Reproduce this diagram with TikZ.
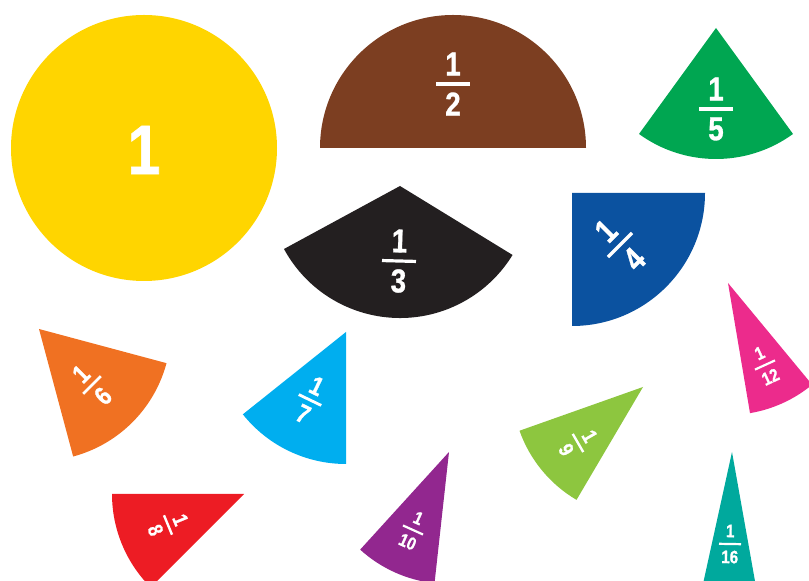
\documentclass[tikz,border=0pt]{standalone}
\usepackage{fontspec}
\newfontfamily\piecefont[FakeStretch=0.84, BoldFeatures={FakeBold=1}]{Liberation Sans}
\usetikzlibrary{calc}

\definecolor{pyellow}{RGB}{255,213,0}
\definecolor{pbrown}{RGB}{124,62,33}
\definecolor{pgreen}{RGB}{0,166,81}
\definecolor{pblack}{RGB}{35,31,32}
\definecolor{pblue}{RGB}{11,82,160}
\definecolor{porange}{RGB}{240,113,34}
\definecolor{pcyan}{RGB}{0,174,239}
\definecolor{ppink}{RGB}{236,43,140}
\definecolor{plime}{RGB}{141,198,63}
\definecolor{pred}{RGB}{237,28,36}
\definecolor{ppurple}{RGB}{146,39,143}
\definecolor{pteal}{RGB}{0,169,157}

% sector: colour, apex, start angle, end angle, radius
\newcommand{\piece}[5]{%
  \fill[#1] (#2) -- ++(#3:#5pt) arc[start angle=#3, end angle=#4, radius=#5pt] -- cycle;}

% label: name, centre of bar, rotation, numerator, denominator, size style
\newcommand{\fraclabel}[6]{%
  \begin{scope}[#6, shift={(#2)}, rotate=#3]
    \fill[white] (-\fbar,-\fthk) rectangle (\fbar,\fthk);
    \node[digit] (#1n) at (0,\fgap) {#4};
    \node[digit] (#1d) at (0,-\fgap) {#5};
  \end{scope}}

\begin{document}
\begin{tikzpicture}[
    x=1pt, y=1pt,
    digit/.style={text=white, inner sep=0pt, transform shape,
      font=\piecefont\bfseries\fontsize{\fsize}{\fsize}\selectfont},
    lg/.style={/utils/exec={\def\fbar{17}\def\fthk{1.6}\def\fgap{20}\def\fsize{33}}},
    md/.style={/utils/exec={\def\fbar{12.5}\def\fthk{1.4}\def\fgap{15.5}\def\fsize{26}}},
    sm/.style={/utils/exec={\def\fbar{10.5}\def\fthk{1.2}\def\fgap{13.5}\def\fsize{21}}},
    xs/.style={/utils/exec={\def\fbar{11}\def\fthk{1.1}\def\fgap{13}\def\fsize{18}}},
]
\useasboundingbox (0,0) rectangle (809,581);
\clip (0,0) rectangle (809,581);

% whole
\fill[pyellow] (144,433) circle[radius=133pt];
\node[text=white, inner sep=0pt, font=\piecefont\bfseries\fontsize{70}{70}\selectfont] (one) at (144,431) {1};

% top row
\piece{pbrown}{453,433}{0}{180}{133}
\fraclabel{half}{453,497}{0}{1}{2}{lg}
\piece{pgreen}{716,553}{234}{306}{131}
\fraclabel{fifth}{716,472}{0}{1}{5}{lg}

% middle
\piece{pblack}{400,395}{208.5}{328.5}{132}
\fraclabel{third}{399,320}{-1.5}{1}{3}{lg}
\piece{pblue}{572,388}{270}{360}{133}
\fraclabel{quarter}{620,336}{45}{1}{4}{lg}

\piece{porange}{39,252}{285}{345}{132}
\fraclabel{sixth}{92,196}{45}{1}{6}{md}
\piece{pcyan}{346,249}{218.6}{270}{132}
\fraclabel{seventh}{310,181}{-25.7}{1}{7}{md}
\piece{ppink}{728,298}{279.6}{309.6}{132}
\fraclabel{twelfth}{765,216}{24.6}{1}{12}{xs}
\piece{plime}{643,194}{199.5}{239.5}{131}
\fraclabel{ninth}{578,138}{-60}{1}{9}{sm}

% bottom row
\piece{pred}{244,87}{180}{225}{132}
\fraclabel{eighth}{168,56}{-67.5}{1}{8}{sm}
\piece{ppurple}{449,129}{227.7}{263.7}{132}
\fraclabel{tenth}{413,51}{-24.3}{1}{10}{xs}
\piece{pteal}{732,129}{257.6}{280.1}{132}
\fraclabel{sixteenth}{730,37}{-1}{1}{16}{xs}
\end{tikzpicture}
\end{document}
